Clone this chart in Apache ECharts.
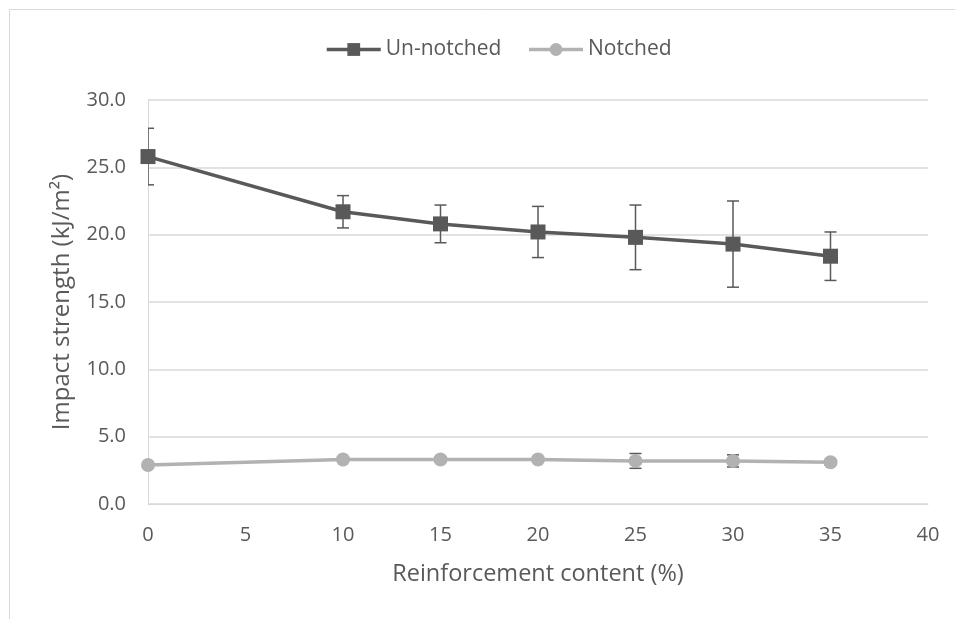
<!DOCTYPE html>
<html>
<head>
<meta charset="utf-8">
<script src="https://cdn.jsdelivr.net/npm/echarts@6/dist/echarts.min.js"></script>
<style>html,body{margin:0;padding:0;background:#fff;}#c{width:955px;height:619px;}</style>
</head>
<body>
<div id="c"></div>
<script>
const xValues = [0, 10, 15, 20, 25, 30, 35];
const unnotched = [25.8, 21.7, 20.8, 20.2, 19.8, 19.3, 18.4];
const unnotchedErr = [2.1, 1.2, 1.4, 1.9, 2.4, 3.2, 1.8];
const notched = [2.9, 3.3, 3.3, 3.3, 3.2, 3.2, 3.1];
const notchedErr = [0.2, 0.2, 0.2, 0.2, 0.55, 0.45, 0.2];
const seriesNames = ['Un-notched', 'Notched'];
const xTitle = 'Reinforcement content (%)';
const yTitle = 'Impact strength (kJ/m\u00B2)';

const chart = echarts.init(document.getElementById('c'));
const font = '"Open Sans", "Noto Sans", sans-serif';
const txt = '#595959';

function errSeries(vals, errs, color) {
  return {
    type: 'custom',
    z: 1,
    silent: true,
    clip: true,
    data: xValues.map((x, i) => [x, vals[i] - errs[i], vals[i] + errs[i]]),
    renderItem: function (params, api) {
      const lo = api.coord([api.value(0), api.value(1)]);
      const hi = api.coord([api.value(0), api.value(2)]);
      const w = 6;
      const st = { stroke: color, lineWidth: 1.5 };
      return {
        type: 'group',
        children: [
          { type: 'line', shape: { x1: lo[0], y1: lo[1], x2: hi[0], y2: hi[1] }, style: st },
          { type: 'line', shape: { x1: lo[0] - w, y1: lo[1], x2: lo[0] + w, y2: lo[1] }, style: st },
          { type: 'line', shape: { x1: hi[0] - w, y1: hi[1], x2: hi[0] + w, y2: hi[1] }, style: st }
        ]
      };
    }
  };
}

chart.setOption({
  animation: false,
  textStyle: { fontFamily: font },
  graphic: [
    { type: 'line', shape: { x1: 9.5, y1: 9.5, x2: 955, y2: 9.5 }, style: { stroke: '#d9d9d9', lineWidth: 1 } },
    { type: 'line', shape: { x1: 9.5, y1: 9.5, x2: 9.5, y2: 619 }, style: { stroke: '#d9d9d9', lineWidth: 1 } }
  ],
  legend: {
    top: 34,
    left: 320,
    itemWidth: 54,
    itemHeight: 16,
    itemGap: 26,
    lineStyle: { width: 3.5 },
    textStyle: { color: txt, fontSize: 21, fontFamily: font },
    data: seriesNames
  },
  grid: { left: 148, right: 27, top: 100, bottom: 115, containLabel: false },
  xAxis: {
    type: 'value', min: 0, max: 40, interval: 5,
    name: xTitle, nameLocation: 'middle', nameGap: 58,
    nameTextStyle: { color: txt, fontSize: 23.5, fontFamily: font },
    axisLine: { show: true, lineStyle: { color: '#d9d9d9' } },
    axisTick: { show: false },
    splitLine: { show: false },
    axisLabel: { color: txt, fontSize: 20, margin: 21 }
  },
  yAxis: {
    type: 'value', min: 0, max: 30, interval: 5,
    name: yTitle, nameLocation: 'middle', nameGap: 74, nameRotate: 90,
    nameTextStyle: { color: txt, fontSize: 24, fontFamily: font },
    axisLine: { show: true, lineStyle: { color: '#d9d9d9' } },
    axisTick: { show: false },
    splitLine: { show: true, lineStyle: { color: '#d9d9d9', width: 1.5 } },
    axisLabel: { color: txt, fontSize: 20, margin: 22, formatter: v => v.toFixed(1) }
  },
  series: [
    errSeries(unnotched, unnotchedErr, '#595959'),
    errSeries(notched, notchedErr, '#595959'),
    {
      name: seriesNames[0], type: 'line', z: 3,
      data: xValues.map((x, i) => [x, unnotched[i]]),
      symbol: 'rect', symbolSize: 15,
      lineStyle: { color: '#595959', width: 3.5 },
      itemStyle: { color: '#595959' }
    },
    {
      name: seriesNames[1], type: 'line', z: 3,
      data: xValues.map((x, i) => [x, notched[i]]),
      symbol: 'circle', symbolSize: 14,
      lineStyle: { color: '#b2b2b2', width: 3.5 },
      itemStyle: { color: '#b2b2b2' }
    }
  ]
});
</script>
</body>
</html>
